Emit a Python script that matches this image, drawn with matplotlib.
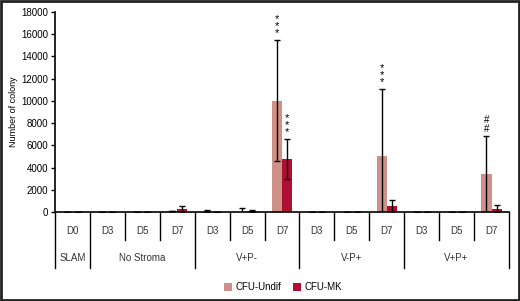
import matplotlib
matplotlib.use("Agg")
import matplotlib.pyplot as plt
from matplotlib.patches import Rectangle
from matplotlib.lines import Line2D
import numpy as np

plt.rcParams['font.family'] = ['Liberation Sans', 'DejaVu Sans']

days = ["D0", "D3", "D5", "D7", "D3", "D5", "D7", "D3", "D5", "D7", "D3", "D5", "D7"]
groups = ["SLAM", "No Stroma", "V+P-", "V-P+", "V+P+"]
group_sizes = [1, 3, 3, 3, 3]
undif = [20, 20, 20, 60, 90, 40, 10000, 20, 20, 5000, 20, 20, 3400]
undif_err = [0, 0, 0, 0, 90, 300, 5450, 0, 0, 6050, 0, 0, 3450]
mk = [10, 10, 10, 280, 20, 100, 4800, 10, 10, 500, 10, 10, 300]
mk_err = [0, 0, 0, 270, 0, 60, 1800, 0, 0, 560, 0, 0, 320]
undif_marks = {6: "***", 9: "***", 12: "##"}
mk_marks = {6: "***"}

c_undif = "#cf9088"
c_mk = "#ad1030"

fig = plt.figure(figsize=(5.2, 3.01), dpi=100)
ax = fig.add_axes([55/520, 89/301, 454/520, 200/301])

n = len(days)
x = np.arange(n) + 0.5
w = 0.29
ax.bar(x - w/2, undif, w, color=c_undif, label="CFU-Undif", zorder=2)
ax.bar(x + w/2, mk, w, color=c_mk, label="CFU-MK", zorder=2)
ax.errorbar(x - w/2, undif, yerr=undif_err, fmt="none", ecolor="black",
            elinewidth=1, capsize=2.5, capthick=1, zorder=3)
ax.errorbar(x + w/2, mk, yerr=mk_err, fmt="none", ecolor="black",
            elinewidth=1, capsize=2.5, capthick=1, zorder=3)

def marks(vals, errs, sym, off):
    for i, s in sym.items():
        top = vals[i] + errs[i]
        ax.annotate("\n".join(s), (x[i] + off, top), xytext=(0, 1.5),
                    textcoords="offset points", ha="center", va="bottom",
                    fontsize=7 if "#" in s else 8, linespacing=0.62 if "*" in s else 0.85,
                    annotation_clip=False)

marks(undif, undif_err, undif_marks, -w/2)
marks(mk, mk_err, mk_marks, w/2)

ax.set_xlim(0, n)
ax.set_ylim(0, 18000)
ax.set_yticks(np.arange(0, 18001, 2000))
ax.tick_params(axis="y", labelsize=7, length=3, width=1, pad=2)
ax.set_xticks([])
for s in ["top", "right"]:
    ax.spines[s].set_visible(False)
ax.spines["left"].set_linewidth(1.2)
ax.spines["bottom"].set_linewidth(1.2)
ax.set_ylabel("Number of colony", fontsize=6.5)
ax.yaxis.set_label_coords(-0.082, 0.5)

tr = ax.get_xaxis_transform()
short_y = -0.14
long_y = -0.28
for i, d in enumerate(days):
    ax.text(x[i], -0.095, d, transform=tr, ha="center", va="center", fontsize=7, color="#333333")
bounds = np.cumsum([0] + group_sizes)
for b in range(n + 1):
    yb = long_y if b in bounds else short_y
    ax.add_line(Line2D([b, b], [0, yb], transform=tr, color="black", lw=1, clip_on=False))
for g, s0, s1 in zip(groups, bounds[:-1], bounds[1:]):
    ax.text((s0 + s1) / 2, -0.23, g, transform=tr, ha="center", va="center", fontsize=7, color="#333333")

fig.legend(loc="center", bbox_to_anchor=(0.545, 0.045), ncol=2, frameon=False, fontsize=7,
           handlelength=0.8, handleheight=0.8, handletextpad=0.4, columnspacing=1.2)

fig.patches.append(Rectangle((0.002, 0.003), 0.996, 0.994, transform=fig.transFigure,
                             fill=False, edgecolor="#222222", lw=2))

fig.savefig("out.png", dpi=100)
